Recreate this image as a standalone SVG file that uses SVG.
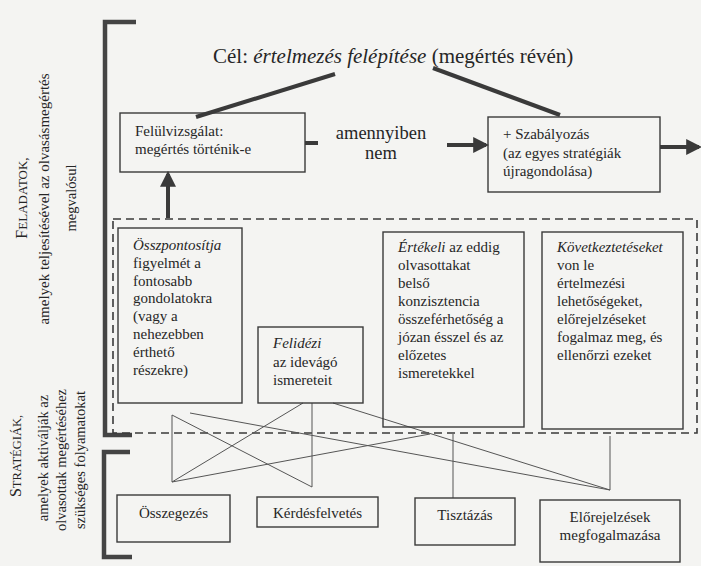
<svg xmlns="http://www.w3.org/2000/svg" width="701" height="566" viewBox="0 0 701 566">
<defs>
<style>
text{font-family:"Liberation Serif","Times New Roman",serif;fill:#262626;}
.t15{font-size:15px;}
.it{font-style:italic;}
.box{fill:none;stroke:#3a3a3a;stroke-width:1.4;}
.thick{stroke:#3a3a3a;stroke-width:4;fill:none;}
.thin{stroke:#555;stroke-width:1;fill:none;}
.dash{fill:none;stroke:#3a3a3a;stroke-width:1.6;stroke-dasharray:8 5;}
.br{fill:none;stroke:#444;stroke-width:4.5;}
</style>
<marker id="ah" markerWidth="4" markerHeight="4" refX="3.2" refY="2" orient="auto" markerUnits="strokeWidth">
<path d="M0,0 L4,2 L0,4 z" fill="#3a3a3a"/>
</marker>
</defs>
<rect x="0" y="0" width="701" height="566" fill="#f4f4f2"/>

<g id="bracket-feladatok">
<path class="br" d="M136,22 H105 V435 H132"/>
<text transform="translate(27,198) rotate(-90)" text-anchor="middle"><tspan font-size="16">F</tspan><tspan font-size="13">ELADATOK,</tspan></text>
<text class="t15" transform="translate(49,199) rotate(-90)" text-anchor="middle" font-size="14.5">amelyek teljesítésével az olvasásmegértés</text>
<text transform="translate(76,198) rotate(-90)" text-anchor="middle" font-size="14.5">megvalósul</text>
</g>

<g id="bracket-strategiak">
<path class="br" d="M130,452 H104 V557 H132"/>
<text transform="translate(21,456) rotate(-90)" text-anchor="middle"><tspan font-size="16">S</tspan><tspan font-size="12.5">TRATÉGIÁK,</tspan></text>
<text transform="translate(48,458) rotate(-90)" text-anchor="middle" font-size="14.5">amelyek aktiválják az</text>
<text transform="translate(66,460) rotate(-90)" text-anchor="middle" font-size="14.5">olvasottak megértéséhez</text>
<text transform="translate(85,460) rotate(-90)" text-anchor="middle" font-size="14.5">szükséges folyamatokat</text>
</g>

<g id="title">
<text x="213" y="63" font-size="21">Cél: <tspan font-style="italic">értelmezés felépítése</tspan> (megértés révén)</text>
</g>

<g id="connectors">
<line class="thick" x1="196" y1="117" x2="335" y2="74"/>
<line class="thick" x1="433" y1="68" x2="560" y2="115"/>
<line class="thick" x1="305" y1="143" x2="318" y2="143"/>
<line class="thick" x1="447" y1="145" x2="486" y2="145" marker-end="url(#ah)"/>
<line class="thick" x1="660" y1="147" x2="699" y2="147" marker-end="url(#ah)"/>
<line class="thick" x1="168" y1="218" x2="168" y2="174" marker-end="url(#ah)"/>
<rect class="dash" x="113" y="219" width="584" height="214"/>
<line class="thin" x1="172" y1="415" x2="172" y2="482"/>
<line class="thin" x1="172" y1="415" x2="312" y2="487"/>
<line class="thin" x1="312" y1="403" x2="312" y2="487"/>
<line class="thin" x1="172" y1="482" x2="303" y2="403"/>
<line class="thin" x1="172" y1="482" x2="430" y2="434"/>
<line class="thin" x1="190" y1="413" x2="610" y2="490"/>
<line class="thin" x1="333" y1="403" x2="610" y2="490"/>
<line class="thin" x1="453" y1="434" x2="453" y2="498"/>
<line class="thin" x1="610" y1="436" x2="610" y2="490"/>
</g>

<g id="felulvizsgalat">
<rect class="box" x="120" y="113" width="185" height="59"/>
<text class="t15" x="135" y="136">Felülvizsgálat:</text>
<text class="t15" x="135" y="154">megértés történik-e</text>
</g>

<g id="amennyiben">
<text x="381" y="139" font-size="18.5" text-anchor="middle">amennyiben</text>
<text x="381" y="159" font-size="18.5" text-anchor="middle">nem</text>
</g>

<g id="szabalyozas">
<rect class="box" x="488" y="117" width="172" height="75"/>
<text class="t15" x="503" y="139">+ Szabályozás</text>
<text class="t15" x="503" y="158">(az egyes stratégiák</text>
<text class="t15" x="503" y="176">újragondolása)</text>
</g>

<g id="osszpontositja">
<rect class="box" x="118" y="228" width="124" height="175"/>
<text class="t15" x="133" y="250"><tspan class="it">Összpontosítja</tspan></text>
<text class="t15" x="133" y="268">figyelmét a</text>
<text class="t15" x="133" y="285.5">fontosabb</text>
<text class="t15" x="133" y="303">gondolatokra</text>
<text class="t15" x="133" y="321">(vagy a</text>
<text class="t15" x="133" y="339">nehezebben</text>
<text class="t15" x="133" y="357">érthető</text>
<text class="t15" x="133" y="375">részekre)</text>
</g>

<g id="felidezi">
<rect class="box" x="258" y="327" width="105" height="76"/>
<text class="t15 it" x="273" y="348">Felidézi</text>
<text class="t15" x="273" y="367">az idevágó</text>
<text class="t15" x="273" y="385">ismereteit</text>
</g>

<g id="ertekeli">
<rect class="box" x="383" y="232" width="141" height="195"/>
<text class="t15" x="398" y="252"><tspan class="it">Értékeli</tspan> az eddig</text>
<text class="t15" x="398" y="270">olvasottakat</text>
<text class="t15" x="398" y="288">belső</text>
<text class="t15" x="398" y="306">konzisztencia</text>
<text class="t15" x="398" y="324">összeférhetőség a</text>
<text class="t15" x="398" y="342">józan ésszel és az</text>
<text class="t15" x="398" y="360">előzetes</text>
<text class="t15" x="398" y="378">ismeretekkel</text>
</g>

<g id="kovetkeztet">
<rect class="box" x="542" y="232" width="141" height="197"/>
<text class="t15 it" x="557" y="252">Következtetéseket</text>
<text class="t15" x="557" y="270">von le</text>
<text class="t15" x="557" y="288">értelmezési</text>
<text class="t15" x="557" y="306">lehetőségeket,</text>
<text class="t15" x="557" y="324">előrejelzéseket</text>
<text class="t15" x="557" y="342">fogalmaz meg, és</text>
<text class="t15" x="557" y="360">ellenőrzi ezeket</text>
</g>

<g id="osszegezes">
<rect class="box" x="117" y="495" width="113" height="47"/>
<text class="t15" x="173.5" y="518" text-anchor="middle">Összegezés</text>
</g>

<g id="kerdesfelvetes">
<rect class="box" x="257" y="497" width="121" height="30"/>
<text class="t15" x="317.5" y="518" text-anchor="middle">Kérdésfelvetés</text>
</g>

<g id="tisztazas">
<rect class="box" x="415" y="498" width="100" height="47"/>
<text class="t15" x="465" y="520" text-anchor="middle">Tisztázás</text>
</g>

<g id="elorejelzesek">
<rect class="box" x="540" y="500" width="140" height="62"/>
<text class="t15" x="610" y="522" text-anchor="middle">Előrejelzések</text>
<text class="t15" x="610" y="540" text-anchor="middle">megfogalmazása</text>
</g>
</svg>
